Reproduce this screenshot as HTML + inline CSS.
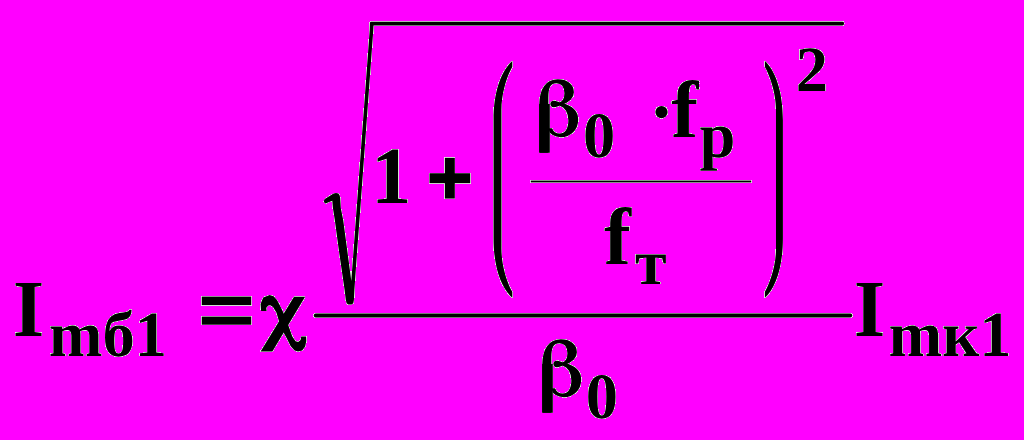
<!DOCTYPE html>
<html><head><meta charset="utf-8"><style>
html,body{margin:0;padding:0;background:#ff00ff;overflow:hidden;}
svg{display:block;}
text{font-family:"Liberation Serif",serif;font-weight:bold;text-rendering:geometricPrecision;}
</style></head><body>
<svg width="1024" height="440" viewBox="0 0 1024 440">
<defs><filter id="h" x="0" y="0" width="1024" height="440" filterUnits="userSpaceOnUse" color-interpolation-filters="sRGB">
<feComponentTransfer in="SourceAlpha" result="m"><feFuncA type="linear" slope="255" intercept="0"/></feComponentTransfer>
<feFlood flood-color="#e8f6e8" result="w"/>
<feComposite in="w" in2="m" operator="in" result="wm"/>
<feMerge><feMergeNode in="wm"/><feMergeNode in="SourceGraphic"/></feMerge>
</filter></defs>
<rect width="1024" height="440" fill="#ff00ff"/>
<g fill="#000" filter="url(#h)">
<text x="12.77" y="336.00" font-size="81.0">I</text>
<text x="48.67" y="356.00" font-size="64.5">mб1</text>
<rect x="201.8" y="296.6" width="49.4" height="8.5"/>
<rect x="201.8" y="316.6" width="49.4" height="8.1"/>
<path d="M 294.0 296.85 L 305.1 296.85 L 272.4 351.6 L 260.6 351.6 Z"/>
<path d="M 261.1 311.1 L 260.6 304.0 L 263.2 297.6 L 269.6 295.1 L 273.6 296.2 L 277.0 300.0 L 280.2 306.0 L 283.3 312.5 L 288.2 324.9 L 292.3 336.4 L 295.6 341.3 L 298.2 342.0 L 300.6 340.0 L 301.2 336.4 L 306.1 336.4 L 306.3 341.0 L 305.2 346.5 L 302.2 350.4 L 298.0 351.6 L 294.6 350.4 L 290.7 346.2 L 286.6 338.0 L 283.3 331.9 L 279.2 322.0 L 276.4 312.5 L 273.0 307.0 L 270.3 305.3 L 268.3 305.6 L 266.3 307.7 L 266.6 311.1 Z"/>
<rect x="313.8" y="313.6" width="538.4" height="3.8" rx="1.9"/>
<path d="M 323.90 201.20 L 324.30 199.60 L 325.20 198.80 L 333.60 193.40 L 336.00 193.00 L 338.40 193.50 L 339.60 195.20 L 340.20 198.00 L 340.80 208.00 L 343.20 220.00 L 347.20 250.00 L 351.30 281.00 L 353.60 250.00 L 355.80 220.00 L 369.70 30.00 L 369.90 22.60 L 370.70 21.65 L 842.30 21.65 L 843.60 22.10 L 844.20 23.50 L 843.60 24.90 L 842.30 25.40 L 373.50 25.40 L 373.30 30.00 L 359.50 220.00 L 357.20 250.00 L 354.40 290.00 L 353.90 300.00 L 353.30 303.30 L 351.60 304.40 L 348.40 304.40 L 346.60 303.30 L 345.80 300.00 L 344.60 290.00 L 341.70 270.00 L 338.80 250.00 L 334.80 220.00 L 332.90 208.00 L 332.30 200.80 L 328.50 202.20 L 325.60 203.40 L 324.40 202.80 Z"/>
<text x="371.10" y="202.60" font-size="81.0">1</text>
<rect x="429.5" y="173.25" width="40.7" height="9.9"/>
<rect x="444.9" y="157.85" width="9.9" height="40.7"/>
<path d="M 512.3 61.0 C 502.00 70.00, 493.55 90.00, 493.55 120.00 L 493.55 238.80 C 493.55 268.80, 502.00 288.80, 512.3 297.80 L 512.3 291.80 C 508.00 284.80, 501.45 266.80, 501.45 248.80 L 501.45 110.00 C 501.45 92.00, 508.00 74.00, 512.3 67.00 Z"/>
<path d="M 764.9 61.0 C 774.80 70.00, 782.90 90.00, 782.90 120.00 L 782.90 238.80 C 782.90 268.80, 774.80 288.80, 764.9 297.80 L 764.9 291.80 C 769.00 284.80, 776.00 266.80, 776.00 248.80 L 776.00 110.00 C 776.00 92.00, 769.00 74.00, 764.9 67.00 Z"/>
<rect x="539.2" y="104" width="10.6" height="48.8"/>
<path d="M551.54 129.34Q552.17 131.55 554.42 133.02Q556.66 134.5 559.6 134.5Q564.14 134.5 566.74 130.74Q569.35 126.98 569.35 120.61Q569.35 114.2 566.85 110.17Q564.35 106.14 559.43 104.64Q559.43 104.64 559.35 104.64H559.31Q559.06 104.72 558.43 104.96Q555.32 106.26 553.68 106.26Q552.55 106.26 551.96 105.65Q551.37 105.04 551.37 103.86Q551.37 102.72 551.98 102.23Q552.59 101.73 553.93 101.73Q555.03 101.73 558.43 102.91L559.69 103.35H559.77Q562.63 102.21 564.01 99.71Q565.4 97.21 565.4 93.32Q565.4 88.21 562.98 85.22Q560.57 82.23 556.5 82.23Q551.62 82.23 549.48 85.79Q547.34 89.35 547.34 97.64V151.8H540.2V105.16Q540.2 93.24 544.8 86.77Q549.4 80.3 557.8 80.3Q564.56 80.3 568.74 83.58Q572.92 86.87 572.92 92.26Q572.92 96.03 570 98.98Q567.08 101.93 561.49 103.66L560.82 103.9L561.53 104.05Q569.3 105.86 573.25 109.74Q577.2 113.61 577.2 119.39Q577.2 126.75 572.5 131.47Q567.79 136.19 560.74 136.19Q556.16 136.19 553.18 134.28Q550.2 132.37 549.69 129.34Z" stroke="#000" stroke-width="2.00" stroke-linejoin="round"/>
<text x="582.90" y="157.00" font-size="64.5">0</text>
<circle cx="661.5" cy="112.1" r="6.1"/>
<text x="671.20" y="137.00" font-size="81.0">f</text>
<text x="699.40" y="157.00" font-size="64.5">p</text>
<rect x="530.8" y="180.6" width="220.4" height="1.8"/>
<text x="604.10" y="264.00" font-size="81.0">f</text>
<text x="634.90" y="284.00" font-size="64.5">т</text>
<text x="795.70" y="90.70" font-size="64.5">2</text>
<rect x="542.2" y="364" width="10.6" height="48.8"/>
<path d="M554.54 389.34Q555.17 391.55 557.42 393.02Q559.66 394.5 562.6 394.5Q567.14 394.5 569.74 390.74Q572.35 386.98 572.35 380.61Q572.35 374.2 569.85 370.17Q567.35 366.14 562.43 364.64Q562.43 364.64 562.35 364.64H562.31Q562.06 364.72 561.43 364.96Q558.32 366.26 556.68 366.26Q555.55 366.26 554.96 365.65Q554.37 365.04 554.37 363.86Q554.37 362.72 554.98 362.23Q555.59 361.73 556.93 361.73Q558.03 361.73 561.43 362.91L562.69 363.35H562.77Q565.63 362.21 567.01 359.71Q568.4 357.21 568.4 353.32Q568.4 348.21 565.98 345.22Q563.57 342.23 559.5 342.23Q554.62 342.23 552.48 345.79Q550.34 349.35 550.34 357.64V411.8H543.2V365.16Q543.2 353.24 547.8 346.77Q552.4 340.3 560.8 340.3Q567.56 340.3 571.74 343.58Q575.92 346.87 575.92 352.26Q575.92 356.03 573 358.98Q570.08 361.93 564.49 363.66L563.82 363.9L564.53 364.05Q572.3 365.86 576.25 369.74Q580.2 373.61 580.2 379.39Q580.2 386.75 575.5 391.47Q570.79 396.19 563.74 396.19Q559.16 396.19 556.18 394.28Q553.2 392.37 552.69 389.34Z" stroke="#000" stroke-width="2.00" stroke-linejoin="round"/>
<text x="585.80" y="417.60" font-size="64.5">0</text>
<text x="853.67" y="336.00" font-size="81.0">I</text>
<text x="888.47" y="356.20" font-size="64.5">mк1</text>
</g>
</svg>
</body></html>
